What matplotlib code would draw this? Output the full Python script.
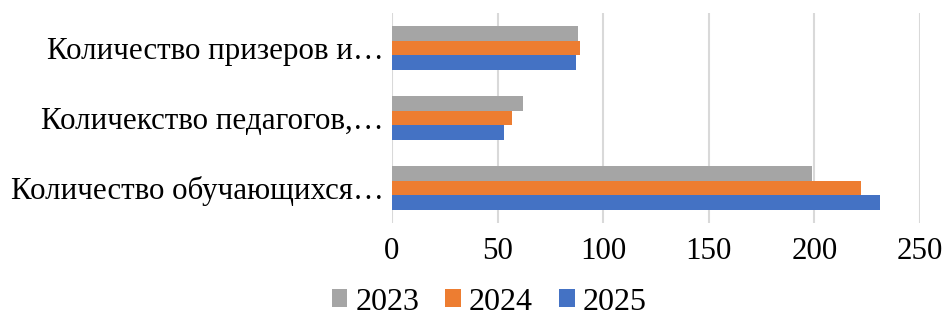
import matplotlib.pyplot as plt
import numpy as np

plt.rcParams['font.family'] = ['Liberation Serif', 'DejaVu Serif']

categories = ['Количество обучающихся…', 'Количекство педагогов,…', 'Количество призеров и…']
years = ['2023', '2024', '2025']
values_2023 = [199, 62, 88]
values_2024 = [222, 57, 89]
values_2025 = [231, 53, 87]
colors = ['#a5a5a5', '#ed7d31', '#4472c4']
xticks = [0, 50, 100, 150, 200, 250]

fig = plt.figure(figsize=(9.49, 3.18), dpi=100)
ax = fig.add_axes([392 / 949, 1 - 223 / 318, 528 / 949, 210 / 318])

y = np.arange(len(categories))
h = 0.21
series = [values_2023, values_2024, values_2025]
for i, (vals, yr, c) in enumerate(zip(series, years, colors)):
    ax.barh(y + (1 - i) * h, vals, height=h, color=c, label=yr, zorder=3)

ax.set_xlim(0, 250)
ax.set_ylim(-0.5, 2.5)
ax.set_xticks(xticks)
ax.set_yticks(y)
ax.set_yticklabels(categories)
ax.tick_params(axis='both', length=0, labelsize=22.3)
ax.tick_params(axis='y', pad=6)
ax.tick_params(axis='x', pad=10)
ax.grid(axis='x', color='#d9d9d9', linewidth=1.5, zorder=0)
for s in ax.spines.values():
    s.set_visible(False)

fig.legend(loc='center', bbox_to_anchor=(489 / 949, 1 - 302 / 318), ncol=3,
           frameon=False, fontsize=23, handlelength=0.5, handleheight=0.5,
           handletextpad=0.25, columnspacing=0.8, borderpad=0)

fig.savefig('out.png', dpi=100)
